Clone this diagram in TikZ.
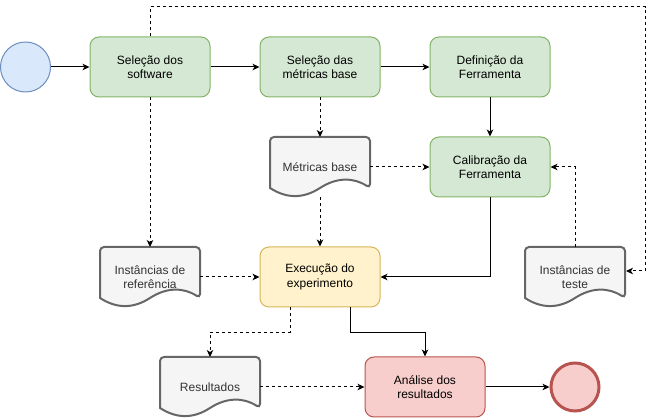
\documentclass[tikz,border=0pt]{standalone}
\usepackage{fontspec}
\setmainfont{Liberation Sans}
\usetikzlibrary{arrows.meta,calc}
\definecolor{gfill}{HTML}{D5E8D4}
\definecolor{gline}{HTML}{82B366}
\definecolor{bfill}{HTML}{DAE8FC}
\definecolor{bline}{HTML}{6C8EBF}
\definecolor{yfill}{HTML}{FFF2CC}
\definecolor{yline}{HTML}{D6B656}
\definecolor{rfill}{HTML}{F8CECC}
\definecolor{rline}{HTML}{B85450}
\definecolor{dfill}{HTML}{F5F5F5}
\definecolor{dline}{HTML}{666666}
\definecolor{dtext}{HTML}{333333}
\newcommand{\docshape}[4]{%
  \begin{scope}[shift={(#1,#2)}]
    \draw[docline] (-50,21) [rounded corners=4] -- (-50,-30) -- (50,-30) -- (50,21) [sharp corners]
      .. controls (33.33,10.2) and (16.67,10.2) .. (0,21)
      .. controls (-16.67,31.8) and (-33.33,31.8) .. (-50,21) -- cycle;
  \end{scope}
  \node[doctext] (#3) at (#1,#2) {#4};}
\begin{document}
\begin{tikzpicture}[x=1pt,y=-1pt,
  every node/.style={font=\fontsize{12}{14.5}\selectfont, align=center},
  box/.style={draw, rectangle, rounded corners=9, minimum width=120pt, minimum height=60pt, line width=1pt, inner sep=0pt},
  greenbox/.style={box, fill=gfill, draw=gline},
  yellowbox/.style={box, fill=yfill, draw=yline},
  redbox/.style={box, fill=rfill, draw=rline},
  docline/.style={draw=dline, fill=dfill, line width=2pt},
  doctext/.style={rectangle, minimum width=100pt, minimum height=60pt, inner sep=0pt, outer sep=0pt, text=dtext},
  startc/.style={circle, draw=bline, fill=bfill, line width=1pt, minimum size=50pt, inner sep=0pt},
  endc/.style={circle, draw=rline, fill=rfill, line width=3pt, minimum size=48pt, inner sep=0pt},
  arr/.style={line width=1pt, -{Stealth[length=7pt,width=6.5pt,inset=2pt]}},
  darr/.style={arr, dash pattern=on 3pt off 3pt}
]
\useasboundingbox (0,0) rectangle (654,419);

% docs (drawn first)
\docshape{320}{167}{mb}{Métricas base}
\docshape{150}{277}{iref}{Instâncias de\\referência}
\docshape{575}{277}{itest}{Instâncias de\\teste}
\docshape{210}{387}{res}{Resultados}

% nodes
\node[startc] (start) at (25.5,67) {};
\node[greenbox] (s1) at (150,67) {Seleção dos\\software};
\node[greenbox] (s2) at (320,67) {Seleção das\\métricas base};
\node[greenbox] (def) at (490,67) {Definição da\\Ferramenta};
\node[greenbox] (cal) at (490,167) {Calibração da\\Ferramenta};
\node[yellowbox] (exe) at (320,277) {Execução do\\experimento};
\node[redbox] (ana) at (425,387) {Análise dos\\resultados};
\node[endc] (end) at (575,387) {};

\coordinate (tr) at (645,7);
\coordinate (itin) at (626,271);

% solid connectors
\draw[arr] (start) -- (s1);
\draw[arr] (s1) -- (s2);
\draw[arr] (s2) -- (def);
\draw[arr] (def) -- (cal);
\draw[arr] (cal.south) |- (exe.east);
\draw[arr] ($(exe.south)+(30,0)$) -- ++(0,25) -| (ana.north);
\draw[arr] (ana.east) -- (end.west);

% dashed connectors
\draw[darr] (s2.south) -- (mb.north);
\draw[darr] (mb.east) -- (cal.west);
\draw[darr] (mb.south) -- (exe.north);
\draw[darr] (s1.south) -- (iref.north);
\draw[darr] (s1.north) |- (tr) |- (itin);
\draw[darr] (itest.north) |- (cal.east);
\draw[darr] (iref.east) -- (exe.west);
\draw[darr] ($(exe.south)+(-30,0)$) -- ++(0,25) -| (res.north);
\draw[darr] (res.east) -- (ana.west);
\end{tikzpicture}
\end{document}
